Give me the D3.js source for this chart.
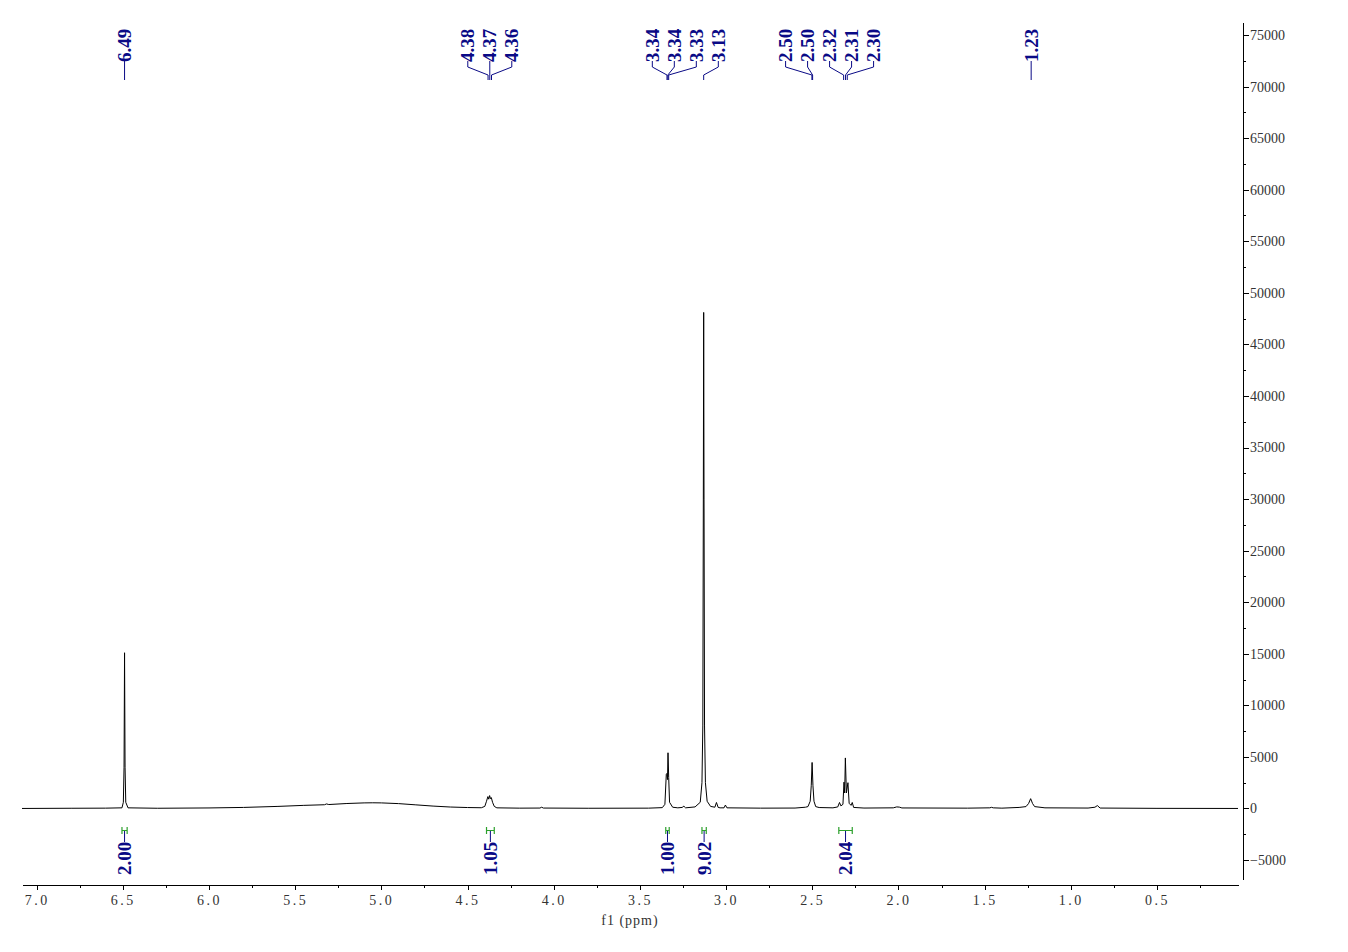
<!DOCTYPE html>
<html>
<head>
<meta charset="utf-8">
<script src="https://cdn.jsdelivr.net/npm/d3@7"></script>
<style>
  html, body { margin: 0; padding: 0; background: #fff; }
  svg { display: block; }
</style>
</head>
<body>
<svg id="chart" width="1348" height="952"></svg>
<script>
// ---------------- DATA ----------------
// spectrum points: [ppm, intensity]
const spectrumPpm = [
  7.085, 6.80, 6.60, 6.505, 6.497, 6.493, 6.490, 6.487, 6.483, 6.47, 6.30, 6.00, 5.80, 5.60, 5.45,
  5.33, 5.318, 5.305, 5.20, 5.10, 5.05, 5.00, 4.90, 4.80, 4.70, 4.60, 4.50, 4.42,
  4.40, 4.39, 4.382, 4.377, 4.372, 4.367, 4.362, 4.355, 4.345, 4.33, 4.20, 4.08, 4.07, 4.06, 3.80, 3.45,
  3.37, 3.355, 3.347, 3.343, 3.340, 3.337, 3.333, 3.328, 3.31, 3.28, 3.255, 3.245, 3.235, 3.18,
  3.15, 3.14, 3.135, 3.132, 3.130, 3.128, 3.125, 3.12, 3.11, 3.09, 3.065, 3.056, 3.046, 3.035,
  3.012, 3.004, 2.995, 2.80, 2.60, 2.54, 2.525, 2.512, 2.506, 2.501, 2.496, 2.490, 2.48, 2.46, 2.38,
  2.352, 2.342, 2.334, 2.322, 2.316, 2.312, 2.308, 2.302, 2.293, 2.286, 2.275, 2.268, 2.260, 2.20,
  2.03, 2.01, 1.995, 1.98, 1.60, 1.47, 1.46, 1.45, 1.40, 1.30, 1.26, 1.245, 1.233, 1.222, 1.21, 1.15,
  0.90, 0.86, 0.846, 0.83, 0.50, 0.03
];
const spectrumInt = [
  0, 20, 30, 60, 600, 4000, 15100, 4000, 600, 60, 20, 50, 100, 200, 300,
  360, 440, 380, 480, 540, 550, 540, 470, 350, 230, 140, 90, 70,
  200, 700, 1150, 900, 1250, 950, 1050, 600, 200, 60, 30, 40, 120, 40, 20, 30,
  80, 400, 3300, 3400, 2800, 5400, 3000, 600, 120, 60, 100, 220, 60, 150,
  600, 2500, 8000, 30000, 48100, 30000, 8000, 2500, 700, 200, 120, 580, 100, 60,
  60, 330, 60, 30, 40, 120, 180, 700, 2200, 4460, 2200, 700, 180, 90, 60,
  150, 580, 250, 400, 2550, 1500, 4900, 1500, 2500, 500, 300, 580, 100, 40,
  60, 150, 130, 50, 30, 60, 110, 60, 30, 100, 180, 480, 950, 480, 180, 60,
  40, 120, 280, 40, 10, 0
];

// peak labels (ppm)
const peakLabels = [6.490, 4.381, 4.371, 4.361, 3.343, 3.338, 3.333, 3.130, 2.502, 2.498, 2.318, 2.307, 2.297, 1.230];

// integrals
const integralFrom = [6.505, 4.390, 3.350, 3.140, 2.346];
const integralTo   = [6.475, 4.345, 3.330, 3.115, 2.268];
const integralVal  = ["2.00", "1.05", "1.00", "9.02", "2.04"];

// axis ticks
const xTicks = [7.0, 6.5, 6.0, 5.5, 5.0, 4.5, 4.0, 3.5, 3.0, 2.5, 2.0, 1.5, 1.0, 0.5];
const xMinorTicks = [6.75, 6.25, 5.75, 5.25, 4.75, 4.25, 3.75, 3.25, 2.75, 2.25, 1.75, 1.25, 0.75, 0.25];
const yTicks = [-5000, 0, 5000, 10000, 15000, 20000, 25000, 30000, 35000, 40000, 45000, 50000, 55000, 60000, 65000, 70000, 75000];
const yMinorTicks = [-2500, 2500, 7500, 12500, 17500, 22500, 27500, 32500, 37500, 42500, 47500, 52500, 57500, 62500, 67500, 72500];
const xTitle = "f1 (ppm)";

// ---------------- CHART ----------------
const svg = d3.select("#chart");
const NAVY = "#0a0a86";
const GREEN = "#2ca02c";

const x = d3.scaleLinear().domain([7.085, 0.03]).range([22, 1238]);
const y = d3.scaleLinear().domain([-6840, 76260]).range([879, 22]);

// spectrum
const pts = spectrumPpm.map((p, i) => [p, spectrumInt[i]]);
svg.append("path")
  .datum(pts)
  .attr("fill", "none")
  .attr("stroke", "#000")
  .attr("stroke-width", 1)
  .attr("stroke-linejoin", "round")
  .attr("d", d3.line().x(d => x(d[0])).y(d => y(d[1])));

// x axis
const xAxisY = 885;
const gx = svg.append("g").attr("transform", `translate(0,${xAxisY})`)
  .call(d3.axisBottom(x).tickValues(xTicks).tickSize(5).tickSizeOuter(0).tickFormat(d3.format(".1f")));
gx.select(".domain").attr("stroke", "#000").attr("shape-rendering", "crispEdges");
gx.selectAll(".tick line").attr("stroke", "#000").attr("shape-rendering", "crispEdges");
gx.selectAll(".tick text")
  .attr("font-family", "'Liberation Serif', 'DejaVu Serif', serif")
  .attr("font-size", 14).attr("fill", "#333").attr("letter-spacing", "2.5px").attr("y", 10);
svg.append("g").attr("transform", `translate(0,${xAxisY})`)
  .call(d3.axisBottom(x).tickValues(xMinorTicks).tickSize(3).tickSizeOuter(0).tickFormat(""))
  .call(g => g.select(".domain").remove())
  .selectAll("line").attr("stroke", "#000").attr("shape-rendering", "crispEdges");
svg.append("text")
  .attr("x", 630).attr("y", 925)
  .attr("text-anchor", "middle")
  .attr("font-family", "'Liberation Serif', 'DejaVu Serif', serif")
  .attr("font-size", 14).attr("fill", "#333").attr("letter-spacing", "1px")
  .text(xTitle);

// y axis
const yAxisX = 1243;
const gy = svg.append("g").attr("transform", `translate(${yAxisX},0)`)
  .call(d3.axisRight(y).tickValues(yTicks).tickSize(6).tickSizeOuter(0).tickFormat(d3.format("d")));
gy.select(".domain").attr("stroke", "#000").attr("shape-rendering", "crispEdges");
gy.selectAll(".tick line").attr("stroke", "#000").attr("shape-rendering", "crispEdges");
gy.selectAll(".tick text")
  .attr("font-family", "'Liberation Serif', 'DejaVu Serif', serif")
  .attr("font-size", 14).attr("fill", "#333").attr("x", 7);
svg.append("g").attr("transform", `translate(${yAxisX},0)`)
  .call(d3.axisRight(y).tickValues(yMinorTicks).tickSize(3).tickSizeOuter(0).tickFormat(""))
  .call(g => g.select(".domain").remove())
  .selectAll("line").attr("stroke", "#000").attr("shape-rendering", "crispEdges");

// peak labels: cluster layout
const SP = 22;
const sorted = peakLabels.map(p => ({ ppm: p, px: x(p) })).sort((a, b) => a.px - b.px);
let clusters = sorted.map(d => [d]);
function layout(c) {
  const mid = (c[0].px + c[c.length - 1].px) / 2;
  return c.map((d, i) => mid + (i - (c.length - 1) / 2) * SP);
}
let changed = true;
while (changed) {
  changed = false;
  for (let i = 0; i < clusters.length - 1; i++) {
    const a = layout(clusters[i]), b = layout(clusters[i + 1]);
    if (a[a.length - 1] + SP > b[0] + 0.01) {
      clusters.splice(i, 2, clusters[i].concat(clusters[i + 1]));
      changed = true;
      break;
    }
  }
}
const fmt2 = d3.format(".2f");
const lab = svg.append("g");
clusters.forEach(c => {
  const pos = layout(c);
  c.forEach((d, i) => {
    const lx = pos[i];
    lab.append("path")
      .attr("d", `M${lx},61 V67 L${d.px},75 V80`)
      .attr("fill", "none").attr("stroke", NAVY).attr("stroke-width", 1);
    lab.append("text")
      .attr("transform", `translate(${lx},62) rotate(-90)`)
      .attr("dy", "0.35em")
      .attr("text-anchor", "start")
      .attr("font-family", "'Liberation Serif', 'Times New Roman', serif")
      .attr("font-weight", "bold")
      .attr("font-size", 19)
      .attr("fill", NAVY)
      .text(fmt2(d.ppm));
  });
});

// integrals
const ig = svg.append("g");
integralVal.forEach((v, i) => {
  const x1 = x(integralFrom[i]), x2 = x(integralTo[i]);
  const cx = (x1 + x2) / 2;
  ig.append("path")
    .attr("d", `M${x1},827 V834 M${x1},830.5 H${x2} M${x2},827 V834`)
    .attr("fill", "none").attr("stroke", GREEN).attr("stroke-width", 1.2);
  ig.append("path")
    .attr("d", `M${cx},831 V842`)
    .attr("stroke", NAVY).attr("stroke-width", 1);
  ig.append("text")
    .attr("transform", `translate(${cx},875) rotate(-90)`)
    .attr("dy", "0.35em")
    .attr("text-anchor", "start")
    .attr("font-family", "'Liberation Serif', 'Times New Roman', serif")
    .attr("font-weight", "bold")
    .attr("font-size", 19)
    .attr("fill", NAVY)
    .text(v);
});
</script>
</body>
</html>
